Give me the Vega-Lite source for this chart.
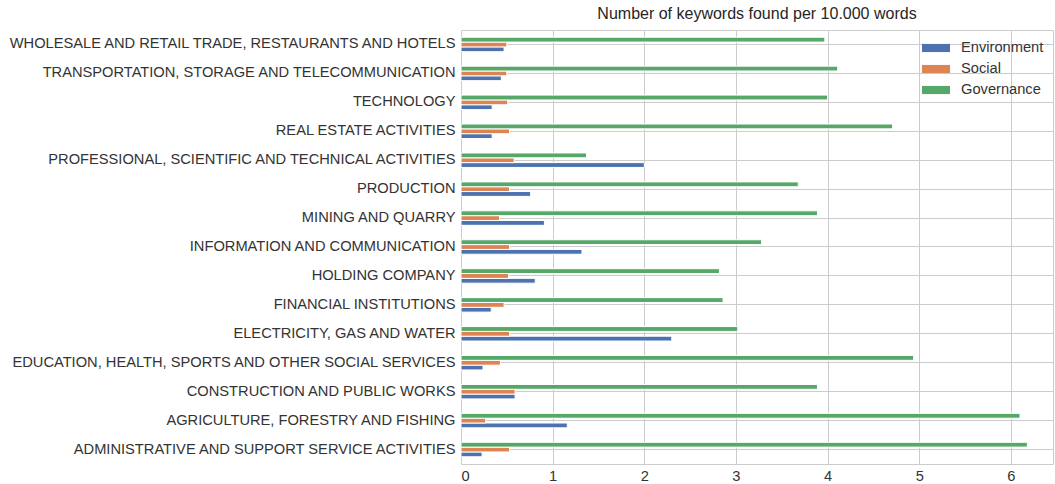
{
  "$schema": "https://vega.github.io/schema/vega-lite/v6.json",
  "width": 592,
  "height": 434,
  "autosize": {"type": "none"},
  "padding": {"left": 461, "top": 30, "right": 2, "bottom": 20},
  "background": "white",
  "title": {
    "text": "Number of keywords found per 10.000 words",
    "anchor": "middle",
    "font": "Liberation Sans",
    "fontSize": 16,
    "fontWeight": "normal",
    "color": "#262626",
    "offset": 8
  },
  "config": {
    "view": {"stroke": "#cccccc", "strokeWidth": 1},
    "font": "Liberation Sans"
  },
  "data": {
    "values": [
      {"category": "WHOLESALE AND RETAIL TRADE, RESTAURANTS AND HOTELS", "series": "Environment", "value": 0.47},
      {"category": "WHOLESALE AND RETAIL TRADE, RESTAURANTS AND HOTELS", "series": "Social", "value": 0.50},
      {"category": "WHOLESALE AND RETAIL TRADE, RESTAURANTS AND HOTELS", "series": "Governance", "value": 3.97},
      {"category": "TRANSPORTATION, STORAGE AND TELECOMMUNICATION", "series": "Environment", "value": 0.44},
      {"category": "TRANSPORTATION, STORAGE AND TELECOMMUNICATION", "series": "Social", "value": 0.50},
      {"category": "TRANSPORTATION, STORAGE AND TELECOMMUNICATION", "series": "Governance", "value": 4.11},
      {"category": "TECHNOLOGY", "series": "Environment", "value": 0.34},
      {"category": "TECHNOLOGY", "series": "Social", "value": 0.51},
      {"category": "TECHNOLOGY", "series": "Governance", "value": 4.00},
      {"category": "REAL ESTATE ACTIVITIES", "series": "Environment", "value": 0.34},
      {"category": "REAL ESTATE ACTIVITIES", "series": "Social", "value": 0.53},
      {"category": "REAL ESTATE ACTIVITIES", "series": "Governance", "value": 4.71},
      {"category": "PROFESSIONAL, SCIENTIFIC AND TECHNICAL ACTIVITIES", "series": "Environment", "value": 2.00},
      {"category": "PROFESSIONAL, SCIENTIFIC AND TECHNICAL ACTIVITIES", "series": "Social", "value": 0.58},
      {"category": "PROFESSIONAL, SCIENTIFIC AND TECHNICAL ACTIVITIES", "series": "Governance", "value": 1.37},
      {"category": "PRODUCTION", "series": "Environment", "value": 0.76},
      {"category": "PRODUCTION", "series": "Social", "value": 0.53},
      {"category": "PRODUCTION", "series": "Governance", "value": 3.68},
      {"category": "MINING AND QUARRY", "series": "Environment", "value": 0.91},
      {"category": "MINING AND QUARRY", "series": "Social", "value": 0.42},
      {"category": "MINING AND QUARRY", "series": "Governance", "value": 3.89},
      {"category": "INFORMATION AND COMMUNICATION", "series": "Environment", "value": 1.32},
      {"category": "INFORMATION AND COMMUNICATION", "series": "Social", "value": 0.53},
      {"category": "INFORMATION AND COMMUNICATION", "series": "Governance", "value": 3.28},
      {"category": "HOLDING COMPANY", "series": "Environment", "value": 0.81},
      {"category": "HOLDING COMPANY", "series": "Social", "value": 0.52},
      {"category": "HOLDING COMPANY", "series": "Governance", "value": 2.82},
      {"category": "FINANCIAL INSTITUTIONS", "series": "Environment", "value": 0.33},
      {"category": "FINANCIAL INSTITUTIONS", "series": "Social", "value": 0.47},
      {"category": "FINANCIAL INSTITUTIONS", "series": "Governance", "value": 2.86},
      {"category": "ELECTRICITY, GAS AND WATER", "series": "Environment", "value": 2.30},
      {"category": "ELECTRICITY, GAS AND WATER", "series": "Social", "value": 0.53},
      {"category": "ELECTRICITY, GAS AND WATER", "series": "Governance", "value": 3.02},
      {"category": "EDUCATION, HEALTH, SPORTS AND OTHER SOCIAL SERVICES", "series": "Environment", "value": 0.24},
      {"category": "EDUCATION, HEALTH, SPORTS AND OTHER SOCIAL SERVICES", "series": "Social", "value": 0.43},
      {"category": "EDUCATION, HEALTH, SPORTS AND OTHER SOCIAL SERVICES", "series": "Governance", "value": 4.94},
      {"category": "CONSTRUCTION AND PUBLIC WORKS", "series": "Environment", "value": 0.59},
      {"category": "CONSTRUCTION AND PUBLIC WORKS", "series": "Social", "value": 0.59},
      {"category": "CONSTRUCTION AND PUBLIC WORKS", "series": "Governance", "value": 3.89},
      {"category": "AGRICULTURE, FORESTRY AND FISHING", "series": "Environment", "value": 1.16},
      {"category": "AGRICULTURE, FORESTRY AND FISHING", "series": "Social", "value": 0.27},
      {"category": "AGRICULTURE, FORESTRY AND FISHING", "series": "Governance", "value": 6.10},
      {"category": "ADMINISTRATIVE AND SUPPORT SERVICE ACTIVITIES", "series": "Environment", "value": 0.23},
      {"category": "ADMINISTRATIVE AND SUPPORT SERVICE ACTIVITIES", "series": "Social", "value": 0.53},
      {"category": "ADMINISTRATIVE AND SUPPORT SERVICE ACTIVITIES", "series": "Governance", "value": 6.18}
    ]
  },
  "mark": {"type": "bar", "stroke": "white", "strokeWidth": 1},
  "encoding": {
    "y": {
      "field": "category",
      "type": "nominal",
      "sort": "descending",
      "title": null,
      "scale": {"paddingInner": 0.5, "paddingOuter": 0.25},
      "axis": {
        "domain": false,
        "ticks": false,
        "labelPadding": 6,
        "labelFont": "Liberation Sans",
        "labelFontSize": 14.67,
        "labelColor": "#333333",
        "labelLimit": 500,
        "grid": true,
        "gridColor": "#cccccc",
        "gridWidth": 1
      }
    },
    "yOffset": {
      "field": "series",
      "type": "nominal",
      "sort": ["Governance", "Social", "Environment"],
      "scale": {"paddingInner": 0, "paddingOuter": 0}
    },
    "x": {
      "field": "value",
      "type": "quantitative",
      "title": null,
      "scale": {"domain": [0, 6.46], "nice": false, "zero": true},
      "axis": {
        "values": [0, 1, 2, 3, 4, 5, 6],
        "domain": false,
        "ticks": false,
        "labelPadding": 4,
        "labelFont": "Liberation Sans",
        "labelFontSize": 14.67,
        "labelColor": "#333333",
        "gridColor": "#cccccc",
        "gridWidth": 1,
        "format": "d"
      }
    },
    "color": {
      "field": "series",
      "type": "nominal",
      "scale": {
        "domain": ["Environment", "Social", "Governance"],
        "range": ["#4C72B0", "#DD8452", "#55A868"]
      },
      "legend": {
        "title": null,
        "orient": "none",
        "legendX": 461,
        "legendY": 4,
        "padding": 0,
        "symbolType": "M-1,-0.29L1,-0.29L1,0.29L-1,0.29Z",
        "symbolSize": 784,
        "symbolStrokeWidth": 0,
        "labelFont": "Liberation Sans",
        "labelFontSize": 14.67,
        "labelColor": "#333333",
        "labelOffset": 11,
        "rowPadding": 0
      }
    }
  }
}
